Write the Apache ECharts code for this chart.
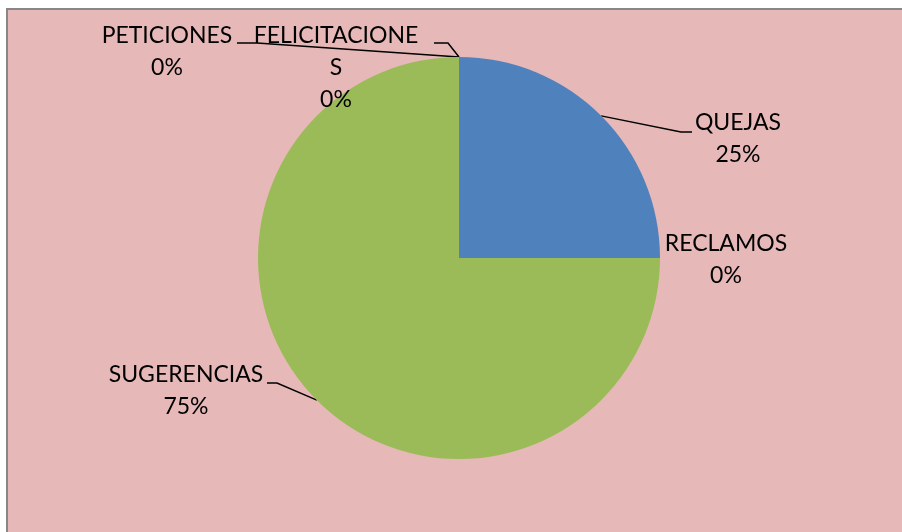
<!DOCTYPE html>
<html>
<head>
<meta charset="utf-8">
<script src="https://cdn.jsdelivr.net/npm/echarts@6/dist/echarts.min.js"></script>
<style>
  html, body { margin: 0; padding: 0; background: #fff; }
  #chart { width: 902px; height: 532px; }
</style>
</head>
<body>
<div id="chart"></div>
<script>
// categorías y porcentajes
const categories = ['QUEJAS', 'RECLAMOS', 'SUGERENCIAS', 'PETICIONES', 'FELICITACIONES']
const values = [25, 0, 75, 0, 0]
const colors = ['#4F81BD', '#C0504D', '#9BBB59', '#8064A2', '#4BACC6']

// posición de cada etiqueta (centro x, borde superior y) y codo de la línea
const labelPos = {
  QUEJAS: { x: 738, y: 107, elbow: [681, 132], end: [692, 132] },
  RECLAMOS: { x: 726, y: 228 },
  SUGERENCIAS: { x: 186, y: 359, elbow: [277, 383], end: [267, 383] },
  PETICIONES: { x: 167, y: 20, elbow: [257, 43], end: [237, 43] },
  FELICITACIONES: { x: 336, y: 20, elbow: [448, 43], end: [434, 43] }
}

const chart = echarts.init(document.getElementById('chart'))

const option = {
  backgroundColor: '#ffffff',
  animation: false,
  graphic: [{
    type: 'rect',
    z: -10,
    shape: { x: 7, y: 9, width: 1000, height: 600 },
    style: { fill: '#E6B8B7', stroke: '#878787', lineWidth: 2 }
  }],
  series: [{
    type: 'pie',
    center: [459, 258],
    radius: 201,
    startAngle: 90,
    clockwise: true,
    avoidLabelOverlap: false,
    stillShowZeroSum: true,
    itemStyle: { borderWidth: 0 },
    label: {
      show: true,
      color: '#000',
      fontFamily: 'Lato, sans-serif',
      fontSize: 23,
      lineHeight: 32,
      align: 'center',
      formatter: p => p.name + '\n' + p.value + '%'
    },
    labelLine: {
      show: true,
      lineStyle: { color: '#000', width: 1.5 }
    },
    labelLayout: params => {
      const name = categories[params.dataIndex]
      const pos = labelPos[name]
      const res = { x: pos.x, y: pos.y, align: 'center', verticalAlign: 'top' }
      if (pos.elbow && params.labelLinePoints) {
        res.labelLinePoints = [params.labelLinePoints[0], pos.elbow, pos.end]
      }
      return res
    },
    data: categories.map((name, i) => {
      const item = { name, value: values[i], itemStyle: { color: colors[i] } }
      if (name === 'RECLAMOS') item.labelLine = { show: false }
      if (name === 'FELICITACIONES') {
        item.label = { width: 168, overflow: 'breakAll' }
      }
      return item
    })
  }]
}

chart.setOption(option)
</script>
</body>
</html>
